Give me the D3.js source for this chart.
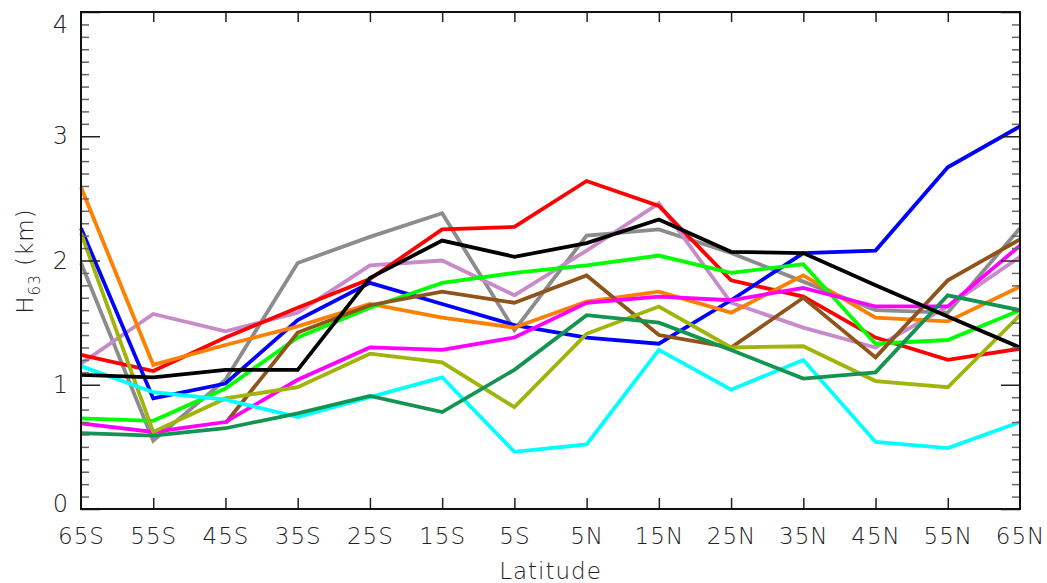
<!DOCTYPE html>
<html>
<head>
<meta charset="utf-8">
<script src="https://cdn.jsdelivr.net/npm/d3@7"></script>
<style>
  body { margin: 0; background: #fff; }
  svg { display: block; }
  .tick text, .lbl { font-family: "DejaVu Sans", sans-serif; font-weight: 200; fill: #222; }
</style>
</head>
<body>
<div id="chart"></div>
<script>
const latitudes = ['65S', '55S', '45S', '35S', '25S', '15S', '5S', '5N', '15N', '25N', '35N', '45N', '55N', '65N'];
const yTicks = [0, 1, 2, 3, 4];

// one array per curve, values in km
const gray      = [1.98, 0.55, 1.04, 1.98, 2.19, 2.38, 1.44, 2.20, 2.25, 2.06, 1.83, 1.60, 1.58, 2.26];
const violet    = [1.17, 1.57, 1.43, 1.58, 1.96, 2.00, 1.72, 2.08, 2.46, 1.66, 1.46, 1.30, 1.63, 2.03];
const red       = [1.24, 1.11, 1.38, 1.62, 1.85, 2.25, 2.27, 2.64, 2.44, 1.84, 1.71, 1.38, 1.20, 1.29];
const blue      = [2.26, 0.89, 1.01, 1.52, 1.82, 1.65, 1.48, 1.38, 1.33, 1.68, 2.06, 2.08, 2.75, 3.08];
const orange    = [2.59, 1.16, 1.32, 1.47, 1.65, 1.54, 1.46, 1.67, 1.75, 1.58, 1.88, 1.54, 1.51, 1.79];
const green     = [0.73, 0.71, 0.97, 1.38, 1.62, 1.82, 1.90, 1.96, 2.04, 1.90, 1.97, 1.33, 1.36, 1.60];
const brown     = [null, null, 0.69, 1.42, 1.64, 1.75, 1.66, 1.88, 1.40, 1.30, 1.70, 1.22, 1.84, 2.17];
const magenta   = [0.69, 0.62, 0.70, 1.04, 1.30, 1.28, 1.38, 1.66, 1.71, 1.68, 1.78, 1.63, 1.63, 2.12];
const olive     = [2.22, 0.62, 0.89, 0.98, 1.25, 1.18, 0.82, 1.41, 1.63, 1.30, 1.31, 1.03, 0.98, 1.56];
const cyan      = [1.15, 0.94, 0.88, 0.74, 0.90, 1.06, 0.46, 0.52, 1.28, 0.96, 1.20, 0.54, 0.49, 0.70];
const darkGreen = [0.61, 0.59, 0.65, 0.77, 0.91, 0.78, 1.12, 1.56, 1.50, 1.28, 1.05, 1.10, 1.72, 1.60];
const black     = [1.08, 1.06, 1.12, 1.12, 1.86, 2.16, 2.03, 2.14, 2.33, 2.07, 2.06, 1.80, 1.55, 1.30];

const series = [
  { name: 'gray', color: '#8c8c8c', values: gray },
  { name: 'violet', color: '#c98ac9', values: violet },
  { name: 'red', color: '#ff0000', values: red },
  { name: 'blue', color: '#0000ff', values: blue },
  { name: 'orange', color: '#ff7f00', values: orange },
  { name: 'green', color: '#00ff00', values: green },
  { name: 'brown', color: '#8f5419', values: brown },
  { name: 'magenta', color: '#ff00ff', values: magenta },
  { name: 'olive', color: '#a0b40a', values: olive },
  { name: 'cyan', color: '#00ffff', values: cyan },
  { name: 'darkGreen', color: '#139450', values: darkGreen },
  { name: 'black', color: '#000000', values: black },
];

const width = 1047;
const height = 583;
const plot = { left: 81, right: 1020, top: 12, bottom: 509 };

const x = d3.scalePoint().domain(latitudes).range([plot.left, plot.right]);
const y = d3.scaleLinear().domain([0, 4]).range([plot.bottom, plot.top]);

const minorTicks = d3.range(1, 40).map((d) => d / 10).filter((d) => Math.abs(d - Math.round(d)) > 1e-6);

const svg = d3.select('#chart').append('svg').attr('width', width).attr('height', height);

// curves
const line = d3.line()
  .defined((d) => d != null)
  .x((d, i) => x(latitudes[i]))
  .y((d) => y(d));

svg.append('g')
  .selectAll('path')
  .data(series)
  .join('path')
  .attr('d', (s) => line(s.values))
  .attr('fill', 'none')
  .attr('stroke', (s) => s.color)
  .attr('stroke-width', 3.8)
  .attr('stroke-linejoin', 'miter');

// bottom axis with labels, ticks inward
const xAxis = svg.append('g')
  .attr('transform', `translate(0,${plot.bottom})`)
  .call(d3.axisBottom(x).tickSizeInner(-11).tickSizeOuter(0).tickPadding(19));
xAxis.select('.domain').remove();
xAxis.selectAll('.tick line').attr('stroke', '#222').attr('stroke-width', 1.5)
  .filter((d, i) => i === 0 || i === latitudes.length - 1).remove();
xAxis.selectAll('.tick text').attr('font-size', 23).attr('letter-spacing', 1);

// top axis, ticks only
const xTop = svg.append('g')
  .attr('transform', `translate(0,${plot.top})`)
  .call(d3.axisTop(x).tickSizeInner(-10).tickSizeOuter(0).tickFormat(''));
xTop.select('.domain').remove();
xTop.selectAll('.tick line').attr('stroke', '#222').attr('stroke-width', 1.5)
  .filter((d, i) => i === 0 || i === latitudes.length - 1).remove();

// left axis with labels; end labels nudged inside the frame like the original
const yAxis = svg.append('g')
  .attr('transform', `translate(${plot.left},0)`)
  .call(d3.axisLeft(y).tickValues(yTicks).tickSizeInner(-19).tickSizeOuter(0).tickPadding(13).tickFormat(d3.format('d')));
yAxis.select('.domain').remove();
yAxis.selectAll('.tick line').attr('stroke', '#222').attr('stroke-width', 1.5);
yAxis.selectAll('.tick text')
  .attr('font-size', 24)
  .attr('dy', (d) => (d === 4 ? '0.85em' : d === 0 ? '0.1em' : '0.32em'));

const yMinor = svg.append('g')
  .attr('transform', `translate(${plot.left},0)`)
  .call(d3.axisLeft(y).tickValues(minorTicks).tickSizeInner(-8).tickSizeOuter(0).tickFormat(''));
yMinor.select('.domain').remove();
yMinor.selectAll('.tick line').attr('stroke', '#666').attr('stroke-width', 1.5);

// right axis, ticks only
const yRight = svg.append('g')
  .attr('transform', `translate(${plot.right},0)`)
  .call(d3.axisRight(y).tickValues(yTicks).tickSizeInner(-19).tickSizeOuter(0).tickFormat(''));
yRight.select('.domain').remove();
yRight.selectAll('.tick line').attr('stroke', '#222').attr('stroke-width', 1.5);

const yRightMinor = svg.append('g')
  .attr('transform', `translate(${plot.right},0)`)
  .call(d3.axisRight(y).tickValues(minorTicks).tickSizeInner(-8).tickSizeOuter(0).tickFormat(''));
yRightMinor.select('.domain').remove();
yRightMinor.selectAll('.tick line').attr('stroke', '#666').attr('stroke-width', 1.5);

// frame
svg.append('rect')
  .attr('x', plot.left)
  .attr('y', plot.top)
  .attr('width', plot.right - plot.left)
  .attr('height', plot.bottom - plot.top)
  .attr('fill', 'none')
  .attr('stroke', '#111')
  .attr('stroke-width', 2);

// axis titles
svg.append('text')
  .attr('class', 'lbl')
  .attr('x', (plot.left + plot.right) / 2)
  .attr('y', 579)
  .attr('text-anchor', 'middle')
  .attr('font-size', 23)
  .attr('letter-spacing', 1)
  .text('Latitude');

const yTitle = svg.append('text')
  .attr('class', 'lbl')
  .attr('transform', `translate(33,261) rotate(-90)`)
  .attr('text-anchor', 'middle')
  .attr('font-size', 23)
  .attr('letter-spacing', 1);
yTitle.append('tspan').text('H');
yTitle.append('tspan').attr('font-size', 15).attr('dy', 7).text('63');
yTitle.append('tspan').attr('dy', -7).text('\u00a0(km)');
</script>
</body>
</html>
